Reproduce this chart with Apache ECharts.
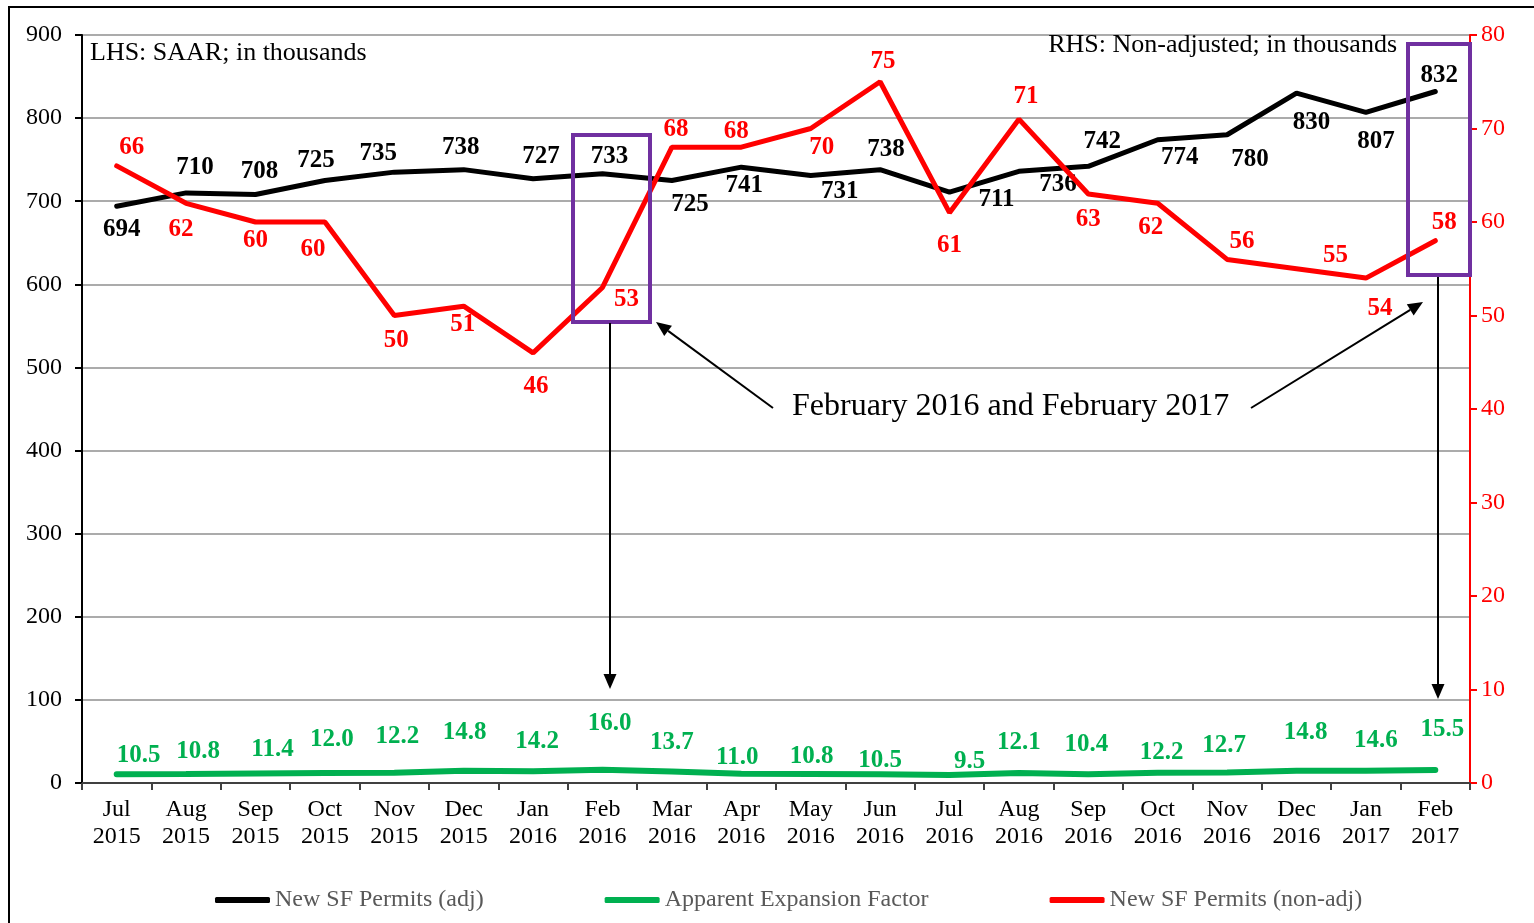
<!DOCTYPE html>
<html>
<head>
<meta charset="utf-8">
<script src="https://cdn.jsdelivr.net/npm/echarts@6/dist/echarts.min.js"></script>
<style>html,body{margin:0;padding:0;background:#fff;}#c{width:1534px;height:923px;}</style>
</head>
<body>
<div id="c"></div>
<script>
const categories = ['Jul\n2015','Aug\n2015','Sep\n2015','Oct\n2015','Nov\n2015','Dec\n2015','Jan\n2016','Feb\n2016','Mar\n2016','Apr\n2016','May\n2016','Jun\n2016','Jul\n2016','Aug\n2016','Sep\n2016','Oct\n2016','Nov\n2016','Dec\n2016','Jan\n2017','Feb\n2017'];
const sfAdj = [694,710,708,725,735,738,727,733,725,741,731,738,711,736,742,774,780,830,807,832];
const expansion = [10.5,10.8,11.4,12.0,12.2,14.8,14.2,16.0,13.7,11.0,10.8,10.5,9.5,12.1,10.4,12.2,12.7,14.8,14.6,15.5];
const sfNonAdj = [66,62,60,60,50,51,46,53,68,68,70,75,61,71,63,62,56,55,54,58];
const leftTicks = [0,100,200,300,400,500,600,700,800,900];
const rightTicks = [0,10,20,30,40,50,60,70,80];

// label placement (style only)
const offAdj = [[5,23],[9,-25],[4,-23],[-9,-20],[-16,-19],[-3,-22],[8,-22],[7,-17],[18,24],[3,18],[29,16],[6,-20],[47,7],[39,13],[14,-25],[22,18],[23,25],[15,29],[10,29],[4,-16]];
const offNon = [[15,-18],[-5,26],[0,19],[-12,28],[2,25],[-1,18],[3,34],[24,12],[4,-18],[-5,-16],[11,19],[3,-20],[0,33],[7,-23],[0,26],[-7,24],[15,-18],[39,-13],[14,30],[9,-18]];
const offExp = [[22,-19],[12,-22],[17,-24],[7,-33],[3,-36],[1,-38],[4,-30],[7,-46],[0,-29],[-4,-16],[1,-17],[0,-14],[20,-14],[0,-30],[-2,-30],[4,-20],[-3,-27],[9,-38],[10,-30],[7,-41]];

const FONT = 'Liberation Serif';
function withLabels(vals, offs, color, fmt) {
  return vals.map((v, i) => ({
    value: v,
    label: {show: true, position: 'inside', offset: offs[i], color: color, fontFamily: FONT, fontWeight: 'bold', fontSize: 25,
      formatter: fmt ? fmt : '{c}'}
  }));
}

function arrow(x1, y1, x2, y2) {
  const ang = Math.atan2(y2 - y1, x2 - x1);
  const L = 15, W = 6.5;
  const bx = x2 - L * Math.cos(ang), by = y2 - L * Math.sin(ang);
  const px = -Math.sin(ang) * W, py = Math.cos(ang) * W;
  return [
    {type: 'line', shape: {x1: x1, y1: y1, x2: bx, y2: by}, style: {stroke: '#000', lineWidth: 2}, z: 100},
    {type: 'polygon', shape: {points: [[x2, y2], [bx + px, by + py], [bx - px, by - py]]}, style: {fill: '#000'}, z: 100}
  ];
}

const chart = echarts.init(document.getElementById('c'));
const option = {
  backgroundColor: '#fff',
  animation: false,
  textStyle: {fontFamily: FONT},
  grid: {left: 82, right: 64, top: 35, bottom: 140, containLabel: false},
  legend: {
    bottom: 6, left: 210,
    itemWidth: 55, itemHeight: 6, itemGap: 121,
    icon: 'roundRect',
    textStyle: {fontFamily: FONT, fontSize: 24, color: '#595959'},
    data: ['New SF Permits (adj)', 'Apparent Expansion Factor', 'New SF Permits (non-adj)']
  },
  xAxis: {
    type: 'category', data: categories, boundaryGap: true,
    axisLine: {lineStyle: {color: '#404040', width: 2}},
    axisTick: {show: true, length: 7, lineStyle: {color: '#404040', width: 2}},
    axisLabel: {color: '#000', fontFamily: FONT, fontSize: 24, lineHeight: 27, margin: 13, interval: 0}
  },
  yAxis: [
    {type: 'value', min: 0, max: 900, interval: 100, position: 'left',
     axisLine: {show: true, lineStyle: {color: '#000', width: 2}},
     axisTick: {show: true, length: 7, lineStyle: {color: '#000', width: 2}},
     axisLabel: {color: '#000', fontFamily: FONT, fontSize: 24, margin: 20},
     splitLine: {show: true, lineStyle: {color: '#ababab', width: 2}}},
    {type: 'value', min: 0, max: 80, interval: 10, position: 'right',
     axisLine: {show: true, lineStyle: {color: '#ff0000', width: 2}},
     axisTick: {show: true, length: 7, lineStyle: {color: '#ff0000', width: 2}},
     axisLabel: {color: '#ff0000', fontFamily: FONT, fontSize: 24, margin: 11},
     splitLine: {show: false}}
  ],
  series: [
    {name: 'New SF Permits (adj)', type: 'line', yAxisIndex: 0, data: withLabels(sfAdj, offAdj, '#000'),
     symbol: 'circle', symbolSize: 1, showSymbol: true, showAllSymbol: true,
     lineStyle: {color: '#000', width: 5, cap: 'round'}, itemStyle: {color: '#000'}, z: 3},
    {name: 'Apparent Expansion Factor', type: 'line', yAxisIndex: 0,
     data: withLabels(expansion, offExp, '#00B050', p => p.value.toFixed(1)),
     symbol: 'circle', symbolSize: 1, showSymbol: true, showAllSymbol: true,
     lineStyle: {color: '#00B050', width: 6, cap: 'round'}, itemStyle: {color: '#00B050'}, z: 3},
    {name: 'New SF Permits (non-adj)', type: 'line', yAxisIndex: 1, data: withLabels(sfNonAdj, offNon, '#ff0000'),
     symbol: 'circle', symbolSize: 1, showSymbol: true, showAllSymbol: true,
     lineStyle: {color: '#ff0000', width: 5, cap: 'round'}, itemStyle: {color: '#ff0000'}, z: 4}
  ],
  graphic: [
    {type: 'rect', shape: {x: 9, y: 7, width: 1560, height: 950}, style: {fill: 'none', stroke: '#000', lineWidth: 2}, z: 0, silent: true},
    {type: 'text', left: 90, top: 40, style: {text: 'LHS: SAAR; in thousands', font: '26px "Liberation Serif"', fill: '#000'}, z: 100},
    {type: 'text', right: 1534 - 1397, top: 32, style: {text: 'RHS: Non-adjusted; in thousands', font: '26px "Liberation Serif"', fill: '#000', textAlign: 'right'}, z: 100},
    {type: 'rect', shape: {x: 573, y: 135, width: 77, height: 187}, style: {fill: 'none', stroke: '#7030A0', lineWidth: 4}, z: 100},
    {type: 'rect', shape: {x: 1408, y: 44, width: 62, height: 231}, style: {fill: 'none', stroke: '#7030A0', lineWidth: 4}, z: 100},
    {type: 'text', left: 792, top: 391, style: {text: 'February 2016 and February 2017', font: '32px "Liberation Serif"', fill: '#000'}, z: 100},
    ...arrow(610, 323, 610, 689),
    ...arrow(1438, 277, 1438, 699),
    ...arrow(773, 408, 656, 322),
    ...arrow(1251, 408, 1423, 302)
  ]
};
chart.setOption(option);
</script>
</body>
</html>
